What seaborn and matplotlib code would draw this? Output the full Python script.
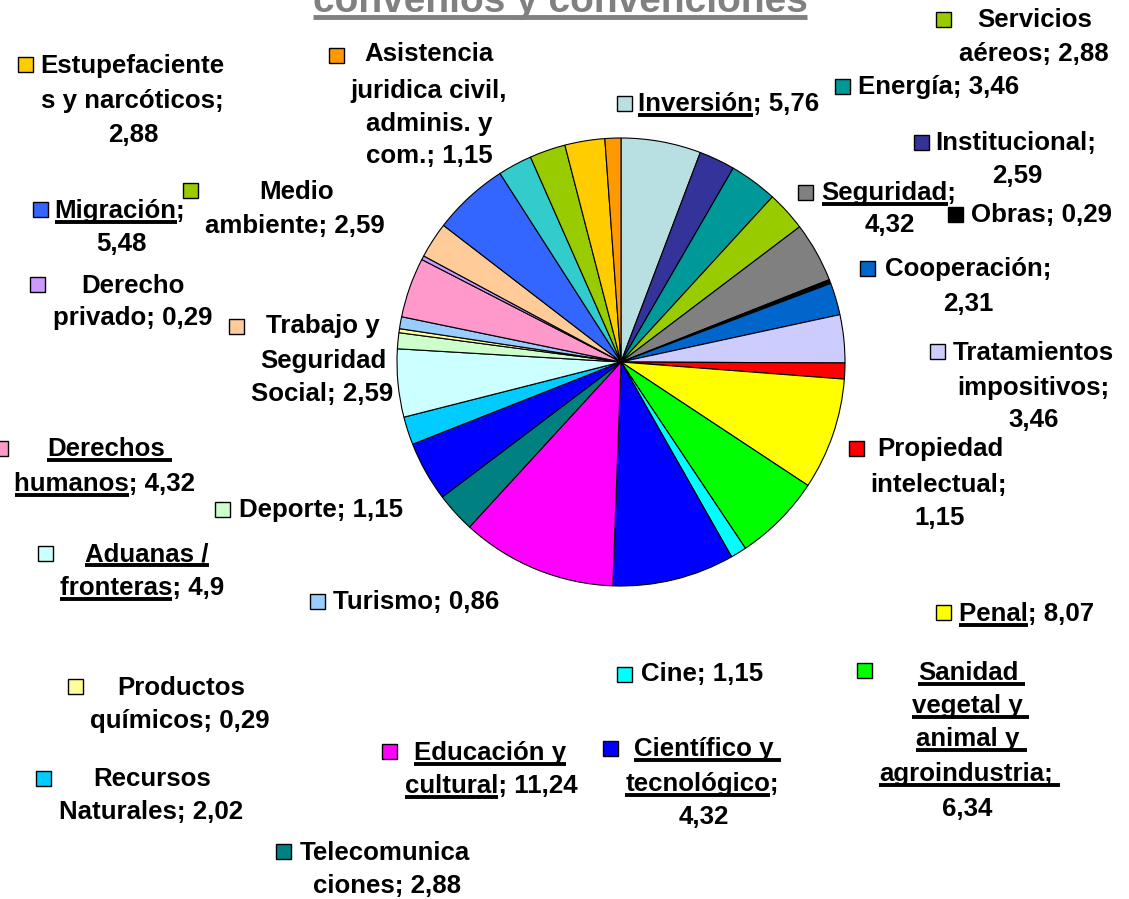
import matplotlib
matplotlib.use("Agg")
import matplotlib.pyplot as plt
import seaborn as sns
from matplotlib.patches import Rectangle

sns.set_theme(style="white")
plt.rcParams["font.family"] = ["Liberation Sans", "DejaVu Sans"]

# ---------------- data (clockwise from 12 o'clock) ----------------
categories = [
    "Inversión", "Institucional", "Energía", "Servicios aéreos", "Seguridad", "Obras",
    "Cooperación", "Tratamientos impositivos", "Propiedad intelectual", "Penal",
    "Sanidad vegetal y animal y agroindustria", "Cine", "(sin etiqueta A)",
    "Educación y cultural", "Telecomunicaciones", "Científico y tecnológico",
    "Recursos Naturales", "Aduanas / fronteras", "Deporte", "Productos químicos",
    "Turismo", "Derechos humanos", "Derecho privado", "Trabajo y Seguridad Social",
    "Migración", "(sin etiqueta B)", "Medio ambiente", "Estupefacientes y narcóticos",
    "Asistencia juridica civil, adminis. y com.",
]
values = [5.76, 2.59, 3.46, 2.88, 4.32, 0.29, 2.31, 3.46, 1.15, 8.07,
          6.34, 1.15, 8.80, 11.24, 2.88, 4.32, 2.02, 4.90, 1.15, 0.29,
          0.86, 4.32, 0.29, 2.59, 5.48, 2.46, 2.59, 2.88, 1.15]
colors = ["#B8E0E3", "#333399", "#009999", "#99CC00", "#808080", "#000000",
          "#0066CC", "#CCCCFF", "#FF0000", "#FFFF00", "#00FF00", "#00FFFF",
          "#0000FF", "#FF00FF", "#008080", "#0000FF", "#00CCFF", "#CCFFFF",
          "#CCFFCC", "#FFFF99", "#99CCFF", "#FF99CC", "#CC99FF", "#FFCC99",
          "#3366FF", "#33CCCC", "#99CC00", "#FFCC00", "#FF9900"]
title = "convenios y convenciones"

def fmt(v):
    return f"{v:g}".replace(".", ",")

# ---------------- layout (pixel coordinates, y from top) ----------------
W, H = 1129, 899
FS = 18.6
# label: category, marker(x,y), lines: (template, x, y_center, ha, n_underlined, trailing_space)
labels = [
    ("Inversión", (624, 103), [("Inversión; {v}", 638, 103, "left", 9, False)]),
    ("Institucional", (921, 142), [("Institucional;", 1016, 142, "center", 0, False),
                                   ("{v}", 1017, 175, "center", 0, False)]),
    ("Energía", (842, 86), [("Energía; {v}", 858, 86, "left", 0, False)]),
    ("Servicios aéreos", (943, 19), [("Servicios", 1035, 19, "center", 0, False),
                                     ("aéreos; {v}", 1034, 53, "center", 0, False)]),
    ("Seguridad", (805, 192), [("Seguridad;", 889, 192, "center", 9, False),
                               ("{v}", 890, 224, "center", 0, False)]),
    ("Obras", (955, 214), [("Obras; {v}", 971, 214, "left", 0, False)]),
    ("Cooperación", (867, 268), [("Cooperación;", 968, 268, "center", 0, False),
                                 ("{v}", 968, 303, "center", 0, False)]),
    ("Tratamientos impositivos", (937, 351), [("Tratamientos", 1033, 352, "center", 0, False),
                                              ("impositivos;", 1033, 387, "center", 0, False),
                                              ("{v}", 1034, 419, "center", 0, False)]),
    ("Propiedad intelectual", (856, 448), [("Propiedad", 940, 448, "center", 0, False),
                                           ("intelectual;", 939, 484, "center", 0, False),
                                           ("{v}", 940, 517, "center", 0, False)]),
    ("Penal", (943, 612), [("Penal; {v}", 959, 613, "left", 5, False)]),
    ("Sanidad vegetal y animal y agroindustria", (864, 670),
     [("Sanidad", 968, 672, "center", -1, True),
      ("vegetal y", 967, 705, "center", -1, True),
      ("animal y", 968, 738, "center", -1, True),
      ("agroindustria;", 966, 773, "center", -1, True),
      ("{v}", 967, 808, "center", 0, False)]),
    ("Cine", (624, 674), [("Cine; {v}", 641, 673, "left", 0, False)]),
    ("Científico y tecnológico", (610, 748), [("Científico y", 704, 748, "center", -1, True),
                                               ("tecnológico;", 702, 783, "center", 11, False),
                                               ("{v}", 704, 816, "center", 0, False)]),
    ("Educación y cultural", (389, 751), [("Educación y", 490, 752, "center", -1, False),
                                          ("cultural; {v}", 491, 785, "center", 8, False)]),
    ("Telecomunicaciones", (283, 851), [("Telecomunica", 385, 852, "center", 0, False),
                                        ("ciones; {v}", 387, 885, "center", 0, False)]),
    ("Recursos Naturales", (43, 778), [("Recursos", 152, 778, "center", 0, False),
                                       ("Naturales; {v}", 151, 811, "center", 0, False)]),
    ("Aduanas / fronteras", (45, 553), [("Aduanas /", 147, 553, "center", -1, False),
                                        ("fronteras; {v}", 142, 587, "center", 9, False)]),
    ("Deporte", (222, 509), [("Deporte; {v}", 239, 509, "left", 0, False)]),
    ("Productos químicos", (75, 686), [("Productos", 181, 687, "center", 0, False),
                                       ("químicos; {v}", 180, 720, "center", 0, False)]),
    ("Turismo", (317, 601), [("Turismo; {v}", 333, 601, "left", 0, False)]),
    ("Derechos humanos", (0, 448), [("Derechos", 106, 448, "center", -1, True),
                                    ("humanos; {v}", 105, 483, "center", 7, False)]),
    ("Derecho privado", (37, 284), [("Derecho", 133, 285, "center", 0, False),
                                    ("privado; {v}", 133, 317, "center", 0, False)]),
    ("Trabajo y Seguridad Social", (236, 326), [("Trabajo y", 323, 325, "center", 0, False),
                                                ("Seguridad", 323, 360, "center", 0, False),
                                                ("Social; {v}", 322, 393, "center", 0, False)]),
    ("Migración", (40, 209), [("Migración;", 120, 210, "center", 9, False),
                              ("{v}", 121, 243, "center", 0, False)]),
    ("Medio ambiente", (190, 190), [("Medio", 297, 191, "center", 0, False),
                                    ("ambiente; {v}", 295, 225, "center", 0, False)]),
    ("Estupefacientes y narcóticos", (25, 64), [("Estupefaciente", 132, 65, "center", 0, False),
                                                ("s y narcóticos;", 132, 100, "center", 0, False),
                                                ("{v}", 133, 134, "center", 0, False)]),
    ("Asistencia juridica civil, adminis. y com.", (336, 55),
     [("Asistencia", 429, 53, "center", 0, False),
      ("juridica civil,", 429, 90, "center", 0, False),
      ("adminis. y", 429, 123, "center", 0, False),
      ("com.; {v}", 429, 155, "center", 0, False)]),
]

# ---------------- figure ----------------
fig = plt.figure(figsize=(W / 100, H / 100), dpi=100)
fig.patch.set_facecolor("white")
ax = fig.add_axes([0, 0, 1, 1])
ax.pie(values, colors=colors, startangle=90, counterclock=False,
       center=(621, H - 362), radius=224, normalize=True,
       wedgeprops=dict(edgecolor="black", linewidth=0.8))
ax.set_xlim(0, W)
ax.set_ylim(0, H)
ax.set_aspect("equal")
ax.axis("off")

underlines = []
texts = []
for cat, (mx, my), lines in labels:
    i = categories.index(cat)
    v = fmt(values[i])
    ax.add_patch(Rectangle((mx - 7.5, H - my - 7.5), 15, 15, facecolor=colors[i],
                           edgecolor="black", linewidth=1.0, zorder=5))
    for tpl, x, y, ha, n, sp in lines:
        s = tpl.format(v=v)
        base = H - (y + 8)
        t = ax.text(x, base, s, ha=ha, va="baseline", fontsize=FS,
                    fontweight="bold", color="black", zorder=6)
        if n != 0:
            underlines.append((t, n, sp, base))

tt = ax.text(560, H - 12, title, ha="center", va="baseline", fontsize=28,
             fontweight="bold", color="#808080")

fig.canvas.draw()
r = fig.canvas.get_renderer()
inv = ax.transData.inverted()

def width_of(s, fs):
    tmp = ax.text(0, 0, s, fontsize=fs, fontweight="bold")
    w = tmp.get_window_extent(r).width
    tmp.remove()
    return w

for t, n, sp, base in underlines:
    bb = t.get_window_extent(r)
    x0 = inv.transform((bb.x0, bb.y0))[0]
    s = t.get_text()
    sub = s if n < 0 else s[:n]
    w = width_of(sub, FS)
    if sp:
        w += 7
    ax.plot([x0, x0 + w], [base - 4, base - 4], color="black", lw=2.8,
            solid_capstyle="butt", zorder=6)

bb = tt.get_window_extent(r)
x0 = inv.transform((bb.x0, bb.y0))[0]
x1 = inv.transform((bb.x1, bb.y0))[0]
ax.plot([x0, x1], [H - 16.5, H - 16.5], color="#808080", lw=3.5, solid_capstyle="butt")

fig.savefig("out.png", dpi=100, facecolor="white")
